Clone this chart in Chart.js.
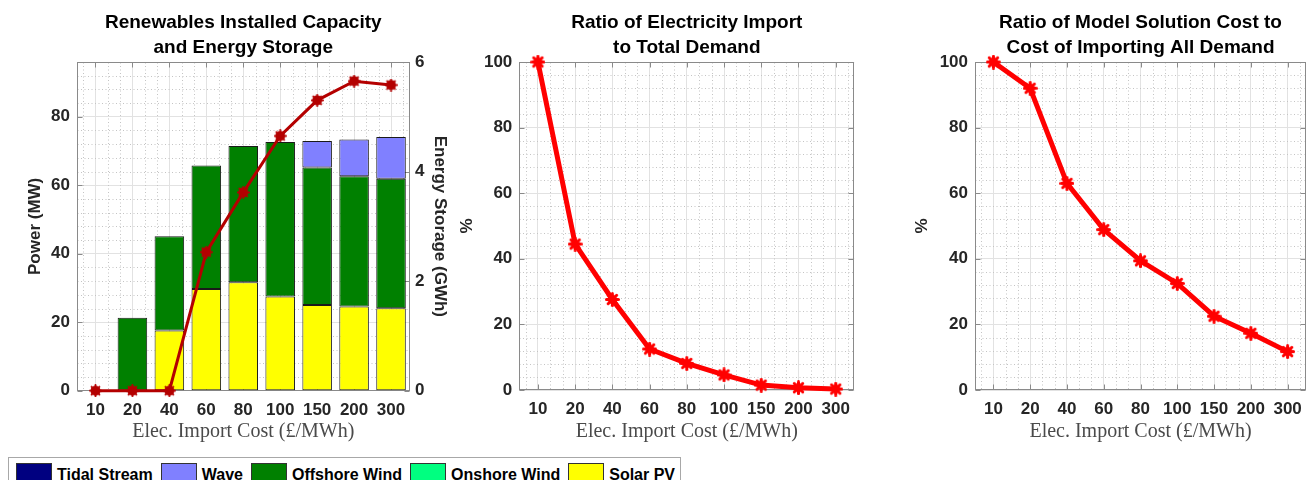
<!DOCTYPE html>
<html>
<head>
<meta charset="utf-8">
<script src="https://cdn.jsdelivr.net/npm/chart.js@4/dist/chart.umd.min.js"></script>
<style>
  html, body { margin: 0; padding: 0; background: #fff; overflow: hidden; width: 1306px; height: 480px; }
  canvas { position: absolute; top: 0; }
  #legend {
    position: absolute; left: 8px; top: 457px; width: 673px; height: 40px;
    border: 1px solid #a8a8a8; box-sizing: border-box; background: #fff;
    display: flex; align-items: flex-start; padding: 5px 0 0 7px;
    font: bold 16px "Liberation Sans", Arial, sans-serif; color: #000;
    white-space: nowrap;
  }
  .item { display: flex; align-items: center; margin-right: 8px; flex: 0 0 auto; }
  .swatch { width: 36px; height: 24px; border: 1px solid #333; box-sizing: border-box; margin-right: 5px; flex: 0 0 auto; }
  .item span { position: relative; top: 0px; }
</style>
</head>
<body>
<canvas id="capacity" width="460" height="450" style="left:0px"></canvas>
<canvas id="importShare" width="420" height="450" style="left:460px"></canvas>
<canvas id="costShare" width="438" height="450" style="left:880px"></canvas>
<div id="legend"></div>
<script>
// ---- data ----
const importCosts = ['10', '20', '40', '60', '80', '100', '150', '200', '300']; // £/MWh
const solarPV      = [0, 0, 17.6, 29.7, 31.7, 27.5, 25.0, 24.6, 24.1];   // MW
const onshoreWind  = [0, 0, 0, 0, 0, 0, 0, 0, 0];
const offshoreWind = [0, 21.3, 27.5, 36.1, 39.8, 45.1, 40.2, 38.0, 37.8];
const wave         = [0, 0, 0, 0, 0, 0, 7.7, 10.8, 12.2];
const tidalStream  = [0, 0, 0, 0, 0, 0, 0, 0, 0];
const energyStorage = [0, 0, 0, 2.53, 3.62, 4.65, 5.30, 5.65, 5.58]; // GWh
const importRatio = [100, 44.5, 27.6, 12.5, 8.1, 4.6, 1.5, 0.7, 0.3];   // %
const costRatio   = [100, 92.0, 63.0, 48.9, 39.4, 32.5, 22.5, 17.3, 11.7]; // %
const powerTicks   = [0, 20, 40, 60, 80];
const storageTicks = [0, 2, 4, 6];
const percentTicks = [0, 20, 40, 60, 80, 100];

// ---- styling ----
const SANS = '"Liberation Sans", Arial, sans-serif';
const SERIF = '"Liberation Serif", "Times New Roman", serif';
const TEXT = '#262626';
const AXIS = '#8a8a8a';
const GRID = '#e2e2e2';
const MINOR = '#c4c4c4';
const tickFont = { family: SANS, size: 17, weight: 'bold' };
const labelFont = { family: SANS, size: 17, weight: 'bold' };
const xTitleFont = { family: SERIF, size: 20 };

const techColours = {
  'Tidal Stream': '#000080',
  'Wave': '#8080ff',
  'Offshore Wind': '#008000',
  'Onshore Wind': '#00ff80',
  'Solar PV': '#ffff00'
};
// stacked bottom to top
const barSeries = [
  ['Solar PV', solarPV],
  ['Onshore Wind', onshoreWind],
  ['Offshore Wind', offshoreWind],
  ['Wave', wave],
  ['Tidal Stream', tidalStream]
];

// asterisk-over-dot marker
function starMarker(colour, size, spoke, dot) {
  const c = document.createElement('canvas');
  c.width = c.height = size;
  const g = c.getContext('2d');
  const m = size / 2;
  g.fillStyle = colour;
  g.beginPath(); g.arc(m, m, size * dot, 0, Math.PI * 2); g.fill();
  g.strokeStyle = colour; g.lineWidth = spoke; g.lineCap = 'round';
  for (let k = 0; k < 8; k++) {
    const a = k * Math.PI / 4;
    g.beginPath(); g.moveTo(m, m);
    g.lineTo(m + Math.cos(a) * (m - spoke / 2), m + Math.sin(a) * (m - spoke / 2));
    g.stroke();
  }
  return c;
}

// minor grid, axes box, inward ticks and a two-line title centred over the plot
const framePlugin = {
  id: 'frame',
  beforeDatasetsDraw(chart, args, o) {
    const { ctx, chartArea: a, scales } = chart;
    const x = scales.x, y = scales.y;
    const L = Math.round(a.left) + 0.5, R = Math.round(a.right) - 0.5;
    const T = Math.round(a.top) + 0.5, B = Math.round(a.bottom) - 0.5;
    const seg = (x1, y1, x2, y2) => { ctx.beginPath(); ctx.moveTo(x1, y1); ctx.lineTo(x2, y2); ctx.stroke(); };
    ctx.save();
    ctx.lineWidth = 1;
    ctx.strokeStyle = MINOR;
    ctx.setLineDash([1, 2.5]);
    const majors = y.ticks.map(t => t.value);
    for (let v = y.min; v <= y.max + 1e-9; v += o.minorStep) {
      if (majors.some(m => Math.abs(m - v) < 1e-6)) continue;
      const py = Math.round(y.getPixelForValue(v)) + 0.5;
      if (py <= T || py >= B) continue;
      seg(L, py, R, py);
    }
    const n = x.getLabels().length;
    for (let i = -1; i <= n; i++) {
      for (const f of [1 / 3, 2 / 3]) {
        const px = Math.round(x.getPixelForValue(i + f)) + 0.5;
        if (px <= L || px >= R) continue;
        seg(px, T, px, B);
      }
    }
    ctx.setLineDash([]);
    ctx.strokeStyle = AXIS;
    ctx.strokeRect(L, T, R - L, B - T);
    const tl = 5;
    x.ticks.forEach((t, i) => {
      const px = Math.round(x.getPixelForTick(i)) + 0.5;
      seg(px, B, px, B - tl);
      seg(px, T, px, T + tl);
    });
    y.ticks.forEach(t => {
      const py = Math.round(y.getPixelForValue(t.value)) + 0.5;
      seg(L, py, L + tl, py);
      if (!scales.y1) seg(R, py, R - tl, py);
    });
    if (scales.y1) {
      scales.y1.ticks.forEach(t => {
        const py = Math.round(scales.y1.getPixelForValue(t.value)) + 0.5;
        seg(R, py, R - tl, py);
      });
    }
    ctx.restore();
  },
  afterDraw(chart, args, o) {
    const { ctx, chartArea: a } = chart;
    ctx.save();
    ctx.fillStyle = '#000';
    ctx.font = 'bold 19px ' + SANS;
    ctx.textAlign = 'center';
    ctx.textBaseline = 'middle';
    const cx = (a.left + a.right) / 2;
    o.title.forEach((line, i) => ctx.fillText(line, cx, 23 + i * 25));
    ctx.restore();
  }
};

function xAxis(height) {
  return {
    offset: true,
    grid: { offset: false, color: GRID, drawTicks: false },
    border: { display: false },
    ticks: { font: tickFont, color: TEXT, padding: 9, maxRotation: 0, autoSkip: false },
    title: { display: true, text: 'Elec. Import Cost (£/MWh)', font: xTitleFont, color: '#4a4a4a',
             padding: { top: 0, bottom: 6 } },
    afterFit(s) { s.height = height; }
  };
}
function yAxis(ticks, max, width, label, titlePad) {
  return {
    min: 0, max: max,
    afterBuildTicks(s) { s.ticks = ticks.map(v => ({ value: v })); },
    grid: { color: GRID, drawTicks: false },
    border: { display: false },
    ticks: { font: tickFont, color: TEXT, padding: 7 },
    title: { display: true, text: label, font: labelFont, color: TEXT, padding: { top: titlePad, bottom: 0 } },
    afterFit(s) { s.width = width; }
  };
}
const common = {
  responsive: false,
  animation: false,
  events: [],
  plugins: { legend: { display: false }, tooltip: { enabled: false } }
};

// ---- left: installed capacity (stacked bars) and storage (line, right axis) ----
const capScales = {
  x: Object.assign(xAxis(59.3), { stacked: true }),
  y: Object.assign(yAxis(powerTicks, 96, 77, 'Power (MW)', 24.8), { stacked: true }),
  y1: {
    position: 'right', min: 0, max: 6,
    afterBuildTicks(s) { s.ticks = storageTicks.map(v => ({ value: v })); },
    grid: { display: false, drawTicks: false },
    border: { display: false },
    ticks: { font: tickFont, color: TEXT, padding: 5.5 },
    title: { display: true, text: 'Energy Storage (GWh)', font: labelFont, color: TEXT, padding: { top: 9.8, bottom: 0 } },
    afterFit(s) { s.width = 50.5; }
  }
};
new Chart(document.getElementById('capacity'), {
  type: 'bar',
  data: {
    labels: importCosts,
    datasets: [
      {
        type: 'line', label: 'Energy Storage', data: energyStorage, yAxisID: 'y1', order: 0,
        borderColor: '#b40000', borderWidth: 3, pointStyle: starMarker('#b40000', 13, 2, 0.38),
        pointRadius: 6, clip: false, tension: 0
      }
    ].concat(barSeries.map(([name, values]) => ({
      label: name, data: values, yAxisID: 'y', order: 1,
      backgroundColor: techColours[name], borderColor: '#1a1a1a', borderWidth: 1,
      borderSkipped: false, barPercentage: 1, categoryPercentage: 0.8
    })))
  },
  options: Object.assign({}, common, {
    layout: { padding: { top: 62, left: 0, right: 0, bottom: 0 } },
    plugins: Object.assign({}, common.plugins, {
      frame: { title: ['Renewables Installed Capacity', 'and Energy Storage'], minorStep: 4 }
    }),
    scales: capScales
  }),
  plugins: [framePlugin]
});

// ---- middle & right: percentage lines ----
function ratioChart(id, values, title, yWidth, titlePad, padRight) {
  new Chart(document.getElementById(id), {
    type: 'line',
    data: {
      labels: importCosts,
      datasets: [{
        data: values, borderColor: '#ff0000', borderWidth: 5,
        pointStyle: starMarker('#ff0000', 15, 3, 0.3), pointRadius: 7, clip: false, tension: 0
      }]
    },
    options: Object.assign({}, common, {
      layout: { padding: { top: 62, left: 0, right: padRight, bottom: 0 } },
      plugins: Object.assign({}, common.plugins, { frame: { title: title, minorStep: 4 } }),
      scales: { x: xAxis(60), y: yAxis(percentTicks, 100, yWidth, '%', titlePad) }
    }),
    plugins: [framePlugin]
  });
}
ratioChart('importShare', importRatio, ['Ratio of Electricity Import', 'to Total Demand'], 59.3, -3.2, 25.7);
ratioChart('costShare', costRatio, ['Ratio of Model Solution Cost to', 'Cost of Importing All Demand'], 95, 32.3, 8);

// ---- legend ----
const legendOrder = ['Tidal Stream', 'Wave', 'Offshore Wind', 'Onshore Wind', 'Solar PV'];
const legend = document.getElementById('legend');
legendOrder.forEach(name => {
  const item = document.createElement('div');
  item.className = 'item';
  const sw = document.createElement('div');
  sw.className = 'swatch';
  sw.style.background = techColours[name];
  const label = document.createElement('span');
  label.textContent = name;
  item.appendChild(sw); item.appendChild(label);
  legend.appendChild(item);
});
</script>
</body>
</html>
